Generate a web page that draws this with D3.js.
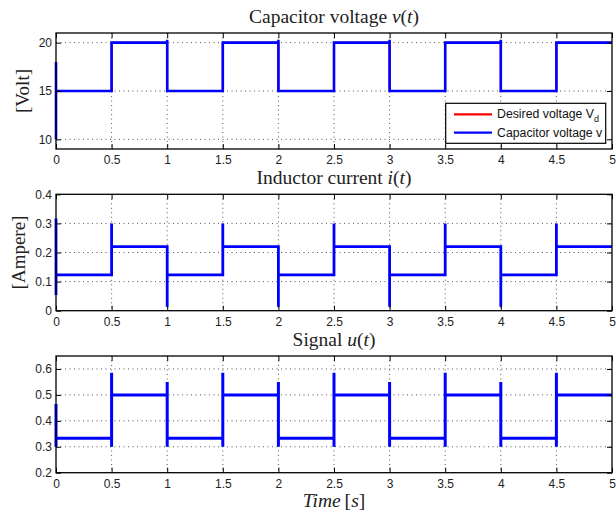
<!DOCTYPE html>
<html>
<head>
<meta charset="utf-8">
<script src="https://cdn.jsdelivr.net/npm/d3@7"></script>
<style>
  body { margin: 0; background: #fff; }
  .tick text { font-family: "Liberation Sans", Arial, sans-serif; font-size: 12px; fill: #222; }
  .tick line { stroke: #000; stroke-width: 1; }
  .grid line { stroke: #555; stroke-width: 1; stroke-dasharray: 1,3.5; }
  .ttl { font-family: "Liberation Serif", "Times New Roman", serif; font-size: 19.5px; fill: #222; }
</style>
</head>
<body>
<div id="chart"></div>
<script>
// switching instants (start of each interval) and end of simulation
var edgeTimes = [0, 0.5, 1, 1.5, 2, 2.5, 3, 3.5, 4, 4.5];
var tEnd = 5;
var xTicks = [0, 0.5, 1, 1.5, 2, 2.5, 3, 3.5, 4, 4.5, 5];

// capacitor voltage panel
var vDesired = [15, 20, 15, 20, 15, 20, 15, 20, 15, 20];
var vCap = [15, 20, 15, 20, 15, 20, 15, 20, 15, 20];
var vCapSpikes = [[10, 18], [], [20.3], [], [20.3], [], [20.3], [], [20.3], []];
var vTicks = [10, 15, 20];

// inductor current panel
var iLevels = [0.123, 0.22, 0.123, 0.22, 0.123, 0.22, 0.123, 0.22, 0.123, 0.22];
var iSpikes = [[0.054, 0.317], [0.30], [0.014], [0.30], [0.014], [0.30], [0.014], [0.30], [0.014], [0.30]];
var iTicks = [0, 0.1, 0.2, 0.3, 0.4];

// control signal panel
var uLevels = [0.333, 0.5, 0.333, 0.5, 0.333, 0.5, 0.333, 0.5, 0.333, 0.5];
var uSpikes = [[0.30, 0.465], [0.30, 0.585], [0.55, 0.30], [0.30, 0.585], [0.55, 0.30],
               [0.30, 0.585], [0.55, 0.30], [0.30, 0.585], [0.55, 0.30], [0.30, 0.585]];
var uTicks = [0.2, 0.3, 0.4, 0.5, 0.6];

var W = 616, H = 517;
var left = 56, right = 612;

var svg = d3.select("#chart").append("svg")
    .attr("width", W).attr("height", H);

var x = d3.scaleLinear().domain([0, 5]).range([left, right]);

function buildWave(levels, spikes) {
    var pts = [];
    levels.forEach(function (lv, k) {
        var t0 = edgeTimes[k];
        var t1 = k + 1 < edgeTimes.length ? edgeTimes[k + 1] : tEnd;
        (spikes ? spikes[k] : []).forEach(function (s) { pts.push([t0, s]); });
        pts.push([t0, lv]);
        pts.push([t1, lv]);
    });
    return pts;
}

function panel(cfg) {
    var y = d3.scaleLinear().domain(cfg.domain).range([cfg.bottom, cfg.top]);
    var g = svg.append("g");

    // dotted grid
    var grid = g.append("g").attr("class", "grid");
    grid.selectAll("line.v").data(xTicks.slice(1, -1)).enter().append("line")
        .attr("x1", x).attr("x2", x).attr("y1", cfg.top).attr("y2", cfg.bottom);
    grid.selectAll("line.h").data(cfg.ticks.filter(function (t) {
            return y(t) > cfg.top + 1 && y(t) < cfg.bottom - 1; }))
        .enter().append("line")
        .attr("x1", left).attr("x2", right).attr("y1", y).attr("y2", y);

    var line = d3.line().x(function (d) { return x(d[0]); }).y(function (d) { return y(d[1]); });

    cfg.series.forEach(function (s) {
        g.append("path").datum(s.pts)
            .attr("fill", "none").attr("stroke", s.color)
            .attr("stroke-width", s.width).attr("stroke-linejoin", "miter")
            .attr("d", line);
    });

    // axes with inward ticks
    g.append("g").attr("transform", "translate(0," + cfg.bottom + ")")
        .call(d3.axisBottom(x).tickValues(xTicks).tickSize(-5).tickPadding(6.5)
            .tickFormat(function (d) { return String(d); }));
    g.append("g").attr("transform", "translate(0," + cfg.top + ")")
        .call(d3.axisTop(x).tickValues(xTicks).tickSize(-5).tickFormat(""));
    g.append("g").attr("transform", "translate(" + left + ",0)")
        .call(d3.axisLeft(y).tickValues(cfg.ticks).tickSize(-5).tickPadding(4)
            .tickFormat(function (d) { return String(d); }));
    g.append("g").attr("transform", "translate(" + right + ",0)")
        .call(d3.axisRight(y).tickValues(cfg.ticks).tickSize(-5).tickFormat(""));
    g.selectAll(".domain").remove();
    g.selectAll(".tick text").attr("font-family", null).attr("font-size", null);

    g.append("rect")
        .attr("x", left).attr("y", cfg.top)
        .attr("width", right - left).attr("height", cfg.bottom - cfg.top)
        .attr("fill", "none").attr("stroke", "#000").attr("stroke-width", 1.3);

    // title
    var t = g.append("text").attr("class", "ttl")
        .attr("x", (left + right) / 2).attr("y", cfg.top - 10.5)
        .attr("text-anchor", "middle");
    t.append("tspan").text(cfg.title[0]);
    t.append("tspan").attr("font-style", "italic").text(cfg.title[1]);
    t.append("tspan").text("(");
    t.append("tspan").attr("font-style", "italic").text("t");
    t.append("tspan").text(")");

    if (cfg.ylabel) {
        g.append("text").attr("class", "ttl")
            .attr("transform", "translate(" + cfg.ylabelX + "," + ((cfg.top + cfg.bottom) / 2) + ") rotate(-90)")
            .attr("text-anchor", "middle")
            .style("font-size", "19px")
            .text(cfg.ylabel);
    }
    return y;
}

panel({
    top: 33, bottom: 149, domain: [9, 21], ticks: vTicks,
    title: ["Capacitor voltage ", "v"], ylabel: "[Volt]", ylabelX: 29,
    series: [
        { pts: buildWave(vDesired), color: "#ff0000", width: 2 },
        { pts: buildWave(vCap, vCapSpikes), color: "#0000ff", width: 2.6 }
    ]
});

panel({
    top: 194.3, bottom: 310.7, domain: [0, 0.4], ticks: iTicks,
    title: ["Inductor current ", "i"], ylabel: "[Ampere]", ylabelX: 25,
    series: [{ pts: buildWave(iLevels, iSpikes), color: "#0000ff", width: 2.8 }]
});

panel({
    top: 356, bottom: 472.7, domain: [0.2, 0.65], ticks: uTicks,
    title: ["Signal ", "u"],
    series: [{ pts: buildWave(uLevels, uSpikes), color: "#0000ff", width: 3 }]
});

// x label
var xl = svg.append("text").attr("class", "ttl")
    .attr("x", (left + right) / 2).attr("y", 507).attr("text-anchor", "middle");
xl.append("tspan").attr("font-style", "italic").text("Time");
xl.append("tspan").text("\u2009[");
xl.append("tspan").attr("font-style", "italic").text("s");
xl.append("tspan").text("]");

// legend
var legendItems = [
    { label: "Desired voltage V", sub: "d", color: "#ff0000" },
    { label: "Capacitor voltage v", sub: "", color: "#0000ff" }
];
var lg = svg.append("g");
lg.append("rect").attr("x", 445.7).attr("y", 103.3).attr("width", 160).attr("height", 40)
    .attr("fill", "#fff").attr("stroke", "#000").attr("stroke-width", 1.2);
legendItems.forEach(function (d, i) {
    var ly = 114.3 + i * 18.4;
    lg.append("line").attr("x1", 454).attr("x2", 492).attr("y1", ly).attr("y2", ly)
        .attr("stroke", d.color).attr("stroke-width", 2.2);
    var tx = lg.append("text").attr("x", 497).attr("y", ly + 4)
        .attr("font-family", "Liberation Sans, Arial, sans-serif").attr("font-size", 12.3)
        .attr("fill", "#111").text(d.label);
    if (d.sub) {
        tx.append("tspan").attr("font-size", 9).attr("dy", 4).text(d.sub);
    }
});
</script>
</body>
</html>
